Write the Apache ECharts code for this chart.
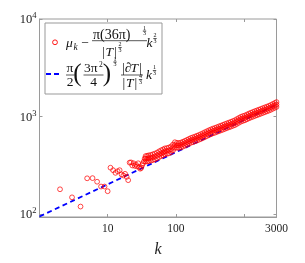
<!DOCTYPE html>
<html><head><meta charset="utf-8">
<script src="https://cdn.jsdelivr.net/npm/echarts@6/dist/echarts.min.js"></script>
<style>html,body{margin:0;padding:0;background:#fff}#c{width:305px;height:263px}</style>
</head><body><div id="c"></div>
<script>
// individual low-k points (k = 2..35)
const kLow = [2,3,4,5,6,7,8,9,10,11,12,13,14,15,16,17,18,19,20,21,22,23,24,25,26,27,28,29,30,31,32,33,34,35];
const muLow = [179,148,119,232,233,214,191,191,171,298,281,264,274,281,254,248,258,240,222,336,338,314,331,311,321,307,331,302,291,296,316,331,346,371];
// dense band (k >= 36): read upper / middle / lower edge of the red band
const kBand = [36,38,40,43,46,49,53,57,61,65,69,74,79,85,91,97,104,111,119,127,136,146,156,167,178,191,204,218,233,250,267,286,306,327,350,375,401,429,459,491,525,562,601,643,688,736,787,842,901,964,1031,1103,1180,1262,1351,1445,1546,1654,1769,1893,2025,2167,2318,2480,2654,2839,3000];
const muBandUpper = [392,395,399,403,409,415,426,439,450,459,470,474,479,493,515,544,536,534,540,550,562,575,588,602,611,622,634,645,658,673,689,705,721,736,751,763,776,791,805,820,835,850,865,881,897,914,939,965,991,1009,1023,1046,1070,1092,1112,1132,1153,1174,1195,1217,1239,1261,1285,1311,1344,1375,1404];
const muBandMid = [368,369,373,376,381,388,398,410,419,427,439,443,447,459,481,508,506,504,510,520,532,544,556,569,578,588,599,610,622,637,651,666,681,695,710,721,734,747,761,775,789,803,818,832,847,863,887,912,937,954,966,989,1011,1032,1050,1070,1090,1109,1129,1150,1171,1192,1214,1239,1270,1298,1325];
const muBandLower = [345,345,348,352,357,362,372,383,393,400,410,414,418,430,450,475,478,476,481,491,502,514,526,538,546,556,566,577,588,602,615,630,644,657,671,681,694,706,719,732,746,760,773,787,802,816,839,862,885,901,914,935,956,976,993,1012,1030,1048,1068,1087,1107,1127,1148,1171,1201,1228,1253];
// asymptote line end points
const lineK = [1, 3000];
const lineV = [94, 1320];
// ticks
const xTickValues = [10, 100, 3000];
const xTickLabels = ['10', '100', '3000'];
const yTickValues = [100, 1000, 10000];
const yTickExponents = ['2', '3', '4'];

const SERIF = '"Liberation Serif", "DejaVu Serif", serif';
const redData = [];
kLow.forEach((k, i) => redData.push([k, muLow[i]]));
kBand.forEach((k, i) => {
  redData.push([k, muBandUpper[i]]);
  redData.push([k, muBandMid[i]]);
  redData.push([k, muBandLower[i]]);
});
const blueData = lineK.map((k, i) => [k, lineV[i]]);

function near(v, t) { return Math.abs(Math.log10(v) - Math.log10(t)) < 1e-6; }

function txt(s, x, y, size, italic, align) {
  return { type: 'text', x: x, y: y, z: 101, silent: true,
    style: { text: s, font: (italic ? 'italic ' : '') + size + 'px ' + SERIF, fill: '#111',
      align: align || 'left', verticalAlign: 'middle' } };
}
function bar(x1, x2, y) {
  return { type: 'line', z: 101, silent: true, shape: { x1: x1, y1: y, x2: x2, y2: y }, style: { stroke: '#111', lineWidth: 0.7 } };
}
function sfrac(a, b, x, y) { // tiny stacked fraction (superscript)
  return [txt(a, x, y - 2.7, 6, false, 'center'), txt(b, x, y + 2.7, 6, false, 'center'), bar(x - 1.7, x + 1.7, y)];
}

const F = 13.5;
const legendEls = [
  { type: 'rect', z: 100, silent: true, shape: { x: 45, y: 23, width: 117, height: 71 }, style: { fill: '#fff', stroke: '#999', lineWidth: 1 } },
  { type: 'circle', z: 101, silent: true, shape: { cx: 55, cy: 42.3, r: 2.4 }, style: { fill: 'none', stroke: '#ff0000', lineWidth: 0.9 } },
  txt('μ', 66, 43.5, F, true), txt('k', 73.5, 47, 9.5, true),
  txt('−', 85, 43, F, false, 'center'),
  txt('π(36π)', 93, 35, 14, false), ...sfrac('1', '3', 144.5, 31),
  bar(92, 147, 40.7),
  txt('|', 102, 52, F, false), txt('T', 105.5, 52, F, true), txt('|', 114, 52, F, false), ...sfrac('2', '3', 120, 47.5),
  txt('k', 146.5, 43.5, F, true), ...sfrac('2', '3', 155, 38.5),
  { type: 'line', z: 101, silent: true, shape: { x1: 46, y1: 74, x2: 62, y2: 74 }, style: { stroke: '#0000ff', lineWidth: 1.8, lineDash: [5, 3] } },
  txt('π', 70, 68.5, F, false, 'center'), bar(66, 74.5, 75), txt('2', 70, 82.5, F, false, 'center'),
  txt('(', 77.5, 74.5, 25, false, 'center'),
  txt('3π', 84, 68.5, F, false), txt('2', 99, 65, 7.5, false), bar(83.5, 103.5, 75), txt('4', 93.5, 82.5, F, false, 'center'),
  txt(')', 107, 74.5, 25, false, 'center'),
  ...sfrac('1', '3', 115, 62),
  txt('|∂', 122, 68.5, F, false), txt('T', 130.5, 68.5, F, true), txt('|', 139, 68.5, F, false),
  bar(121, 143, 75),
  txt('|', 122.5, 83.5, F, false), txt('T', 126, 83.5, F, true), txt('|', 134.5, 83.5, F, false), ...sfrac('4', '3', 140.5, 79.5),
  txt('k', 146, 75.5, F, true), ...sfrac('1', '3', 154.5, 70.5)
];

const axisGray = '#9a9a9a';
const chart = echarts.init(document.getElementById('c'), null, { renderer: 'canvas' });
chart.setOption({
  animation: false,
  backgroundColor: '#fff',
  grid: { left: 39.5, right: 28.5, top: 19, bottom: 36.5, show: true, borderColor: axisGray, borderWidth: 1, containLabel: false },
  xAxis: [{
    type: 'log', logBase: 10, min: 1, max: 3000, position: 'bottom',
    axisLine: { show: true, lineStyle: { color: axisGray, width: 1 } },
    axisTick: { show: true, inside: true, length: 3, lineStyle: { color: axisGray } },
    splitLine: { show: false },
    axisLabel: { show: true, showMinLabel: true, showMaxLabel: true, hideOverlap: false, margin: 6,
      fontFamily: SERIF, fontSize: 11.5, color: '#222',
      formatter: function (v) { for (let i = 0; i < xTickValues.length; i++) if (near(v, xTickValues[i])) return xTickLabels[i]; return ''; } },
    name: 'k', nameLocation: 'middle', nameGap: 25,
    nameTextStyle: { fontFamily: SERIF, fontStyle: 'italic', fontSize: 16, color: '#222' }
  }, {
    type: 'log', logBase: 10, min: 1, max: 3000, position: 'top',
    axisLine: { show: false }, axisTick: { show: true, inside: true, length: 3, lineStyle: { color: axisGray } },
    axisLabel: { show: false }, splitLine: { show: false }
  }],
  yAxis: [{
    type: 'log', logBase: 10, min: 93, max: 10000, position: 'left',
    axisLine: { show: true, lineStyle: { color: axisGray, width: 1 } },
    axisTick: { show: true, inside: true, length: 3, lineStyle: { color: axisGray } },
    splitLine: { show: false },
    axisLabel: { show: true, showMinLabel: true, showMaxLabel: true, margin: 3,
      formatter: function (v) { for (let i = 0; i < yTickValues.length; i++) if (near(v, yTickValues[i])) return '{b|10}{s|' + yTickExponents[i] + '}'; return ''; },
      rich: {
        b: { fontFamily: SERIF, fontSize: 12.5, color: '#222', verticalAlign: 'bottom' },
        s: { fontFamily: SERIF, fontSize: 8.5, color: '#222', verticalAlign: 'bottom', padding: [0, 0, 6, 0] }
      } }
  }, {
    type: 'log', logBase: 10, min: 93, max: 10000, position: 'right',
    axisLine: { show: false }, axisTick: { show: true, inside: true, length: 3, lineStyle: { color: axisGray } },
    axisLabel: { show: false }, splitLine: { show: false }
  }],
  series: [{
    type: 'line', data: blueData, xAxisIndex: 0, yAxisIndex: 0, z: 2,
    showSymbol: false, symbol: 'none', silent: true,
    lineStyle: { color: '#0000ff', width: 1.8, type: [5, 3.5] }
  }, {
    type: 'scatter', data: redData, xAxisIndex: 0, yAxisIndex: 0, z: 3, silent: true,
    symbol: 'circle', symbolSize: 4.8,
    itemStyle: { color: 'rgba(0,0,0,0)', borderColor: '#ff0000', borderWidth: 0.9 }
  }],
  graphic: { elements: legendEls }
});
</script></body></html>
